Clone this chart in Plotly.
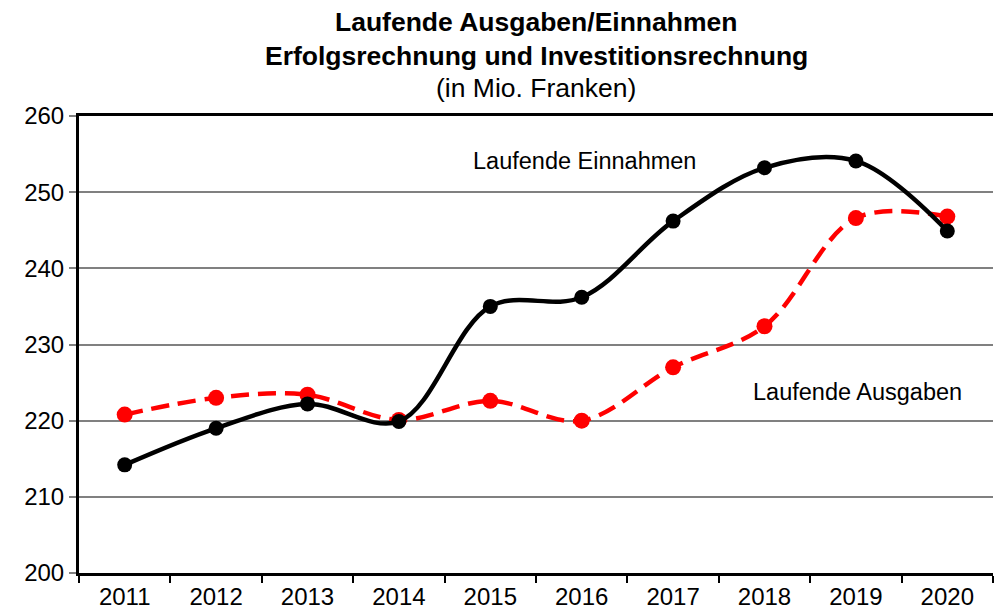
import plotly.graph_objects as go

years = ["2011", "2012", "2013", "2014", "2015", "2016", "2017", "2018", "2019", "2020"]
einnahmen = [214.2, 219.0, 222.2, 219.9, 235.0, 236.2, 246.2, 253.2, 254.1, 244.9]
ausgaben = [220.8, 223.0, 223.4, 220.1, 222.6, 220.0, 227.0, 232.4, 246.6, 246.8]

title_lines = ["<b>Laufende Ausgaben/Einnahmen</b>",
               "<b>Erfolgsrechnung und Investitionsrechnung</b>",
               "(in Mio. Franken)"]

L, R, T, B = 79, 1, 116, 40
W, H = 994, 613
plot_h = H - T - B

fig = go.Figure()
fig.add_trace(go.Scatter(
    x=years, y=ausgaben, mode="lines+markers", name="Laufende Ausgaben",
    line=dict(color="#ff0000", width=4.5, dash="18px,9px", shape="spline", smoothing=1.0),
    marker=dict(color="#ff0000", size=16),
))
fig.add_trace(go.Scatter(
    x=years, y=einnahmen, mode="lines+markers", name="Laufende Einnahmen",
    line=dict(color="#000000", width=4.5, shape="spline", smoothing=1.0),
    marker=dict(color="#000000", size=15),
))

# title lines (pixel centres converted to paper coordinates)
for txt, ypx in zip(title_lines, [22, 56, 88]):
    fig.add_annotation(x=0.5, y=(H - B - ypx) / plot_h, xref="paper", yref="paper",
                       text=txt, showarrow=False, xanchor="center", yanchor="middle",
                       font=dict(size=26.5, color="black"))

fig.add_annotation(x=0.553, y=(H - B - 161) / plot_h, xref="paper", yref="paper",
                   text="Laufende Einnahmen", showarrow=False,
                   xanchor="center", yanchor="middle",
                   font=dict(size=23.5, color="black"))
fig.add_annotation(x=0.852, y=(H - B - 392) / plot_h, xref="paper", yref="paper",
                   text="Laufende Ausgaben", showarrow=False,
                   xanchor="center", yanchor="middle",
                   font=dict(size=23.5, color="black"))

fig.update_layout(
    width=W, height=H,
    margin=dict(l=L, r=R, t=T, b=B),
    paper_bgcolor="white", plot_bgcolor="white",
    showlegend=False,
    font=dict(family="Liberation Sans, Arial, sans-serif", color="black"),
    xaxis=dict(
        type="category", tickson="boundaries", showline=True, linecolor="black",
        linewidth=3, mirror=True, ticks="outside", ticklen=7, tickcolor="black",
        tickwidth=1.5, showgrid=False, tickfont=dict(size=24), range=[-0.5, 9.5],
    ),
    yaxis=dict(
        range=[200, 260], dtick=10, showline=True, linecolor="black", linewidth=3,
        ticks="outside", ticklen=7, tickcolor="#808080", tickwidth=1.5,
        showgrid=True, gridcolor="#808080", gridwidth=1.5, zeroline=False,
        tickfont=dict(size=24), automargin=False,
    ),
)

fig.write_html("out.html", config={"displayModeBar": False},
               post_script="document.body.style.margin='0';")
